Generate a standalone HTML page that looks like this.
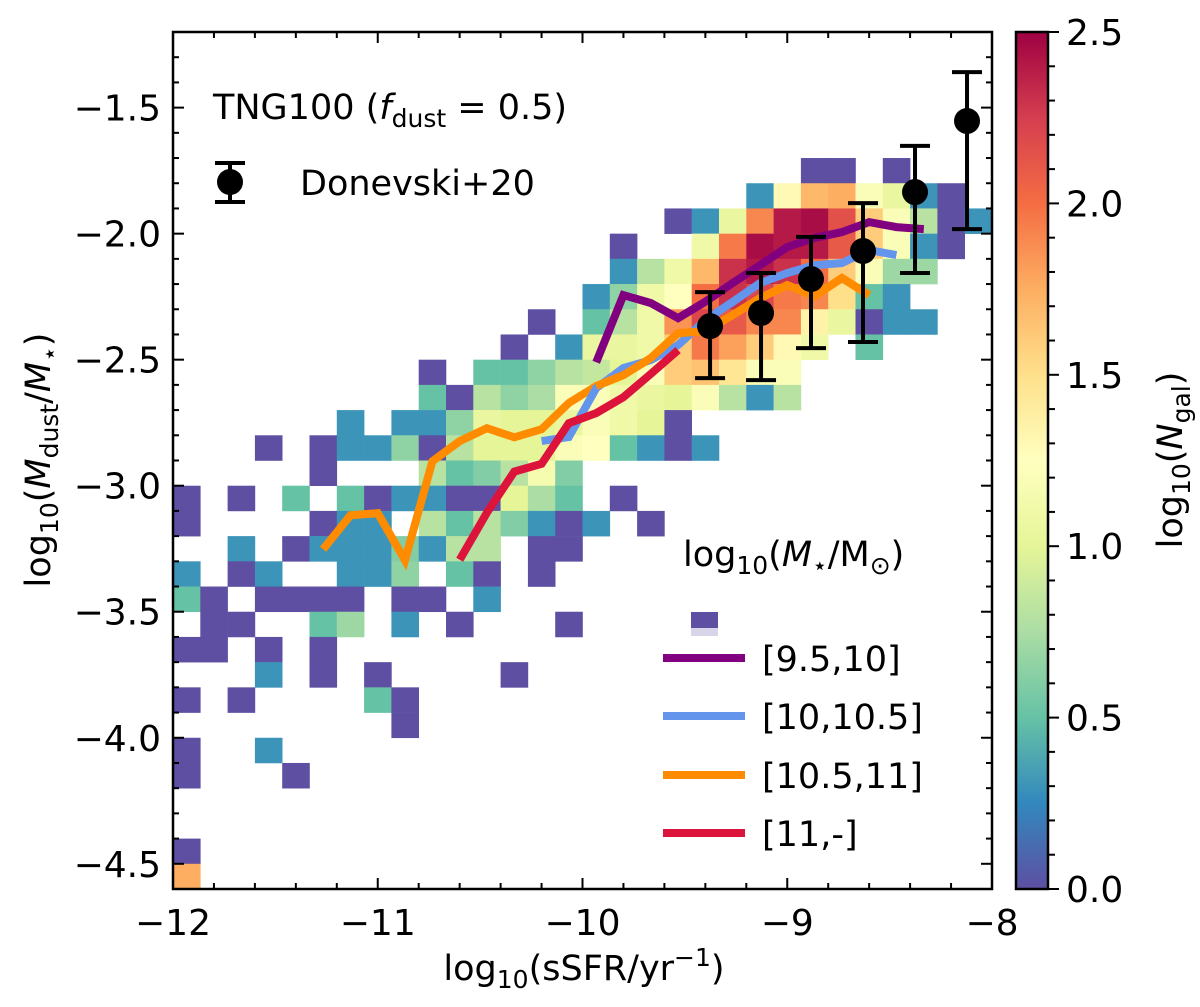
<!DOCTYPE html>
<html><head><meta charset="utf-8"><style>
html,body{margin:0;padding:0;background:#fff}
svg{display:block;font-family:"DejaVu Sans","Liberation Sans",sans-serif}
</style></head><body>
<svg id="chart" width="1200" height="1007" viewBox="0 0 1200 1007" xmlns="http://www.w3.org/2000/svg">
<defs>
<linearGradient id="cbar" x1="0" y1="1" x2="0" y2="0">
<stop offset="0" stop-color="#5e4fa2"/><stop offset="0.1" stop-color="#3288bd"/><stop offset="0.2" stop-color="#66c2a5"/><stop offset="0.3" stop-color="#abdda4"/><stop offset="0.4" stop-color="#e6f598"/><stop offset="0.5" stop-color="#ffffbf"/><stop offset="0.6" stop-color="#fee08b"/><stop offset="0.7" stop-color="#fdae61"/><stop offset="0.8" stop-color="#f46d43"/><stop offset="0.9" stop-color="#d53e4f"/><stop offset="1" stop-color="#9e0142"/>
</linearGradient>
</defs>
<g id="cells"></g>
<g id="lines"></g>
<g id="obs"></g>
<g id="axes"></g>
</svg>
<script>
// ---- data ----
const cellRow = [5,5,5, 6,6,6,6,6,6,6,6, 7,7,7,7,7,7,7,7,7,7,7,7, 8,8,8,8,8,8,8,8,8,8,8,
9,9,9,9,9,9,9,9,9,9,9,9, 10,10,10,10,10,10,10,10,10,10,10,10,
11,11,11,11,11,11,11,11,11,11,11,11,11,11, 12,12,12,12,12,12,12,12,12,12,12,12,
13,13,13,13,13,13,13,13,13,13,13,13,13, 14,14,14,14,14,14,14,14,14,14,14,14,14,14,
15,15,15,15,15,15,15,15,15,15,15,15, 16,16,16,16,16,16,16,16,16,16,16,16,16,16,16,16,
17,17,17,17,17,17,17, 18,18,18,18,18,18,18,18,18,18,18,18,18,
19,19,19,19,19,19,19,19,19,19,19,19, 20,20,20,20,20,20,20,20,20,20,20,
21,21,21,21,21,21,21,21,21, 22,22,22,22,22,22,22,22,22, 23,23,23,23,23,23,23,
24,24,24,24, 25,25,25,25, 26,26,26,26, 27, 28,28, 29,29, 32, 33];
const cellCol = [23,24,26, 21,22,23,24,25,26,27,28, 18,19,20,21,22,23,24,25,26,27,28,29, 16,19,20,21,22,23,24,25,26,27,28,
16,17,18,19,20,21,22,23,24,25,26,27, 15,16,17,18,19,20,21,22,23,24,25,26,
13,15,16,17,18,19,20,21,22,23,24,25,26,27, 12,14,15,16,17,18,19,20,21,22,23,25,
9,11,12,13,14,15,16,17,18,19,20,21,22, 9,10,11,12,13,14,15,16,17,18,19,20,21,22,
6,8,9,10,11,12,13,14,15,16,17,18, 3,5,6,7,8,9,10,11,12,13,14,15,16,17,18,19,
5,9,10,11,12,13,14, 0,2,4,6,7,8,9,10,11,12,13,14,16,
0,5,6,7,9,10,11,12,13,14,15,17, 2,4,5,6,7,8,9,10,11,13,14,
0,2,3,6,7,8,10,11,13, 0,1,3,4,5,6,8,9,11, 1,2,5,6,8,10,14,
0,1,3,5, 3,5,7,12, 0,2,7,8, 8, 0,3, 0,4, 0, 0];
const cellLogN = [0,0,0, .3,1.3,1.7,1.75,1.2,1.05,.3,0, 0,.3,1.05,1.9,2.4,2.45,2.15,1.6,1.2,.8,0,.3, 0,1.1,1.95,2.45,2.4,2.4,2.1,1.6,1.2,.3,0,
.3,.8,1.1,1.7,2.3,2.4,2.3,2.0,1.6,1.2,.7,.7, .3,.65,1.1,1.25,2.0,2.3,2.2,1.95,1.9,1.5,.5,.3,
0,.5,.8,1.1,1.85,2.2,2.1,1.9,1.9,1.35,1.05,0,.3,.3, 0,.3,1.05,1.05,1.1,1.6,1.95,1.8,1.6,1.3,1.1,.5,
0,.5,.5,.65,.8,.85,1.0,1.2,1.6,1.65,1.45,1.2,1.2, .5,0,.8,.65,.75,1.2,1.2,1.1,1.05,1.0,1.2,.8,.3,.8,
.3,.3,.3,.65,1.05,1.0,1.0,1.05,1.2,1.1,1.0,0, 0,0,.3,.3,.65,0,.8,1.0,1.0,1.0,1.2,1.25,.5,.3,0,.3,
0,.8,.5,.6,.8,1.15,.6, 0,0,.5,.5,0,.3,.3,0,0,1.0,.75,.5,0,
0,0,.3,.3,.8,.5,.8,.6,.3,0,.3,0, .3,0,.3,.3,.3,.6,.3,.8,.8,0,0,
.3,0,.3,.3,.3,.65,.5,0,0, .5,0,0,0,0,0,0,0,.3, 0,0,.5,.7,.3,0,0,
0,0,0,0, .3,0,0,0, 0,0,.5,0, 0, 0,.3, 0,0, 0, 1.75];

const purpleX = [-9.933,-9.8,-9.667,-9.533,-9.4,-9.267,-9.133,-9.0,-8.867,-8.733,-8.6,-8.467,-8.333];
const purpleY = [-2.51,-2.244,-2.275,-2.335,-2.27,-2.196,-2.125,-2.053,-2.017,-1.994,-1.954,-1.974,-1.982];
const blueX = [-10.2,-10.067,-9.933,-9.8,-9.667,-9.533,-9.4,-9.267,-9.133,-9.0,-8.867,-8.733,-8.6,-8.467];
const blueY = [-2.823,-2.807,-2.613,-2.533,-2.502,-2.442,-2.343,-2.271,-2.196,-2.156,-2.125,-2.117,-2.065,-2.085];
const orangeX = [-11.267,-11.133,-11.0,-10.867,-10.733,-10.6,-10.467,-10.333,-10.2,-10.067,-9.933,-9.8,-9.667,-9.533,-9.4,-9.267,-9.133,-9.0,-8.867,-8.733,-8.6];
const orangeY = [-3.252,-3.117,-3.109,-3.296,-2.903,-2.823,-2.772,-2.808,-2.776,-2.672,-2.605,-2.561,-2.494,-2.395,-2.387,-2.323,-2.256,-2.204,-2.248,-2.176,-2.244];
const redX = [-10.6,-10.467,-10.333,-10.2,-10.067,-9.933,-9.8,-9.667,-9.533];
const redY = [-3.294,-3.107,-2.944,-2.913,-2.752,-2.712,-2.649,-2.557,-2.462];

const obsX = [-9.377,-9.128,-8.884,-8.630,-8.376,-8.122];
const obsY = [-2.367,-2.315,-2.180,-2.069,-1.835,-1.553];
const obsHi = [-2.232,-2.156,-2.013,-1.879,-1.652,-1.359];
const obsLo = [-2.573,-2.581,-2.454,-2.430,-2.156,-1.982];

const xTicks = [-12,-11,-10,-9,-8];
const xTickLabels = ['\u221212','\u221211','\u221210','\u22129','\u22128'];
const yTicks = [-1.5,-2.0,-2.5,-3.0,-3.5,-4.0,-4.5];
const yTickLabels = ['\u22121.5','\u22122.0','\u22122.5','\u22123.0','\u22123.5','\u22124.0','\u22124.5'];
const cTicks = [0,0.5,1,1.5,2,2.5];
const cTickLabels = ['0.0','0.5','1.0','1.5','2.0','2.5'];

// ---- geometry ----
const L=173,R=992,T=32,B=889;
const X0=-12,X1=-8,Y0=-4.6,Y1=-1.2;
const sx=v=>L+(v-X0)/(X1-X0)*(R-L);
const sy=v=>B-(v-Y0)/(Y1-Y0)*(B-T);
const CB_L=1016,CB_R=1048, CMIN=0,CMAX=2.5;
const cy=v=>B-(v-CMIN)/(CMAX-CMIN)*(B-T);
const NS='http://www.w3.org/2000/svg';
function mk(tag,attrs,parent){const e=document.createElementNS(NS,tag);for(const k in attrs)e.setAttribute(k,attrs[k]);parent.appendChild(e);return e;}
const stops=['#5e4fa2','#3288bd','#66c2a5','#abdda4','#e6f598','#ffffbf','#fee08b','#fdae61','#f46d43','#d53e4f','#9e0142'];
function cmap(v){let t=Math.max(0,Math.min(1,(v-CMIN)/(CMAX-CMIN)))*10;let i=Math.min(9,Math.floor(t));let f=t-i;
 const a=stops[i],b=stops[i+1];const p=(h,o)=>parseInt(h.substr(o,2),16);
 const c=[1,3,5].map(o=>Math.round(p(a,o)+(p(b,o)-p(a,o))*f));return `rgb(${c.join(',')})`;}

// ---- heatmap ----
const dx=(X1-X0)/30, dy=0.1;
const gc=document.getElementById('cells');
for(let n=0;n<cellRow.length;n++){
 const xl=X0+cellCol[n]*dx, yt=Y1-cellRow[n]*dy;
 const x=sx(xl), y=sy(yt), w=sx(xl+dx)-x, h=sy(yt-dy)-y;
 const r=mk('rect',{x:x.toFixed(2),y:y.toFixed(2),width:(w+0.3).toFixed(2),height:(h+0.3).toFixed(2),fill:cmap(cellLogN[n])},gc);
 
 
}

// ---- median lines ----
const gl=document.getElementById('lines');
function curve(xs,ys,color,name){
 const p=mk('polyline',{points:xs.map((v,i)=>sx(v).toFixed(1)+','+sy(ys[i]).toFixed(1)).join(' '),fill:'none',stroke:color,'stroke-width':8,'stroke-linejoin':'miter'},gl);
 
 
}
curve(orangeX,orangeY,'#ff8c00','curve-10.5-11');
curve(blueX,blueY,'#6495ed','curve-10-10.5');
curve(orangeX.slice(10),orangeY.slice(10),'#ff8c00','curve-10.5-11-front');
curve(redX,redY,'#dc143c','curve-11-plus');
curve(purpleX,purpleY,'#800080','curve-9.5-10');

// ---- observations ----
const go=document.getElementById('obs');
for(let i=0;i<obsX.length;i++){
 const x=sx(obsX[i]);
 const g=mk('g',{},go);
 
 
 mk('line',{x1:x,x2:x,y1:sy(obsHi[i]),y2:sy(obsLo[i]),stroke:'#000','stroke-width':4},g);
 mk('line',{x1:x-15,x2:x+15,y1:sy(obsHi[i]),y2:sy(obsHi[i]),stroke:'#000','stroke-width':4},g);
 mk('line',{x1:x-15,x2:x+15,y1:sy(obsLo[i]),y2:sy(obsLo[i]),stroke:'#000','stroke-width':4},g);
 mk('circle',{cx:x,cy:sy(obsY[i]),r:13,fill:'#000'},g);
}

// ---- axes ----
const ga=document.getElementById('axes');
const frame=mk('rect',{x:L,y:T,width:R-L,height:B-T,fill:'none',stroke:'#000','stroke-width':2.5},ga);


function tk(x1,y1,x2,y2){mk('line',{x1,y1,x2,y2,stroke:'#000','stroke-width':2},ga);}
for(let v=-12;v<=-8.0001;v+=0.2){const x=sx(v);const maj=Math.abs(v-Math.round(v))<1e-6;const l=maj?11:6;tk(x,B,x,B-l);tk(x,T,x,T+l);}
for(let k=0;k<=34;k++){const v=-4.6+k*0.1;const y=sy(v);const maj=Math.abs(v*2-Math.round(v*2))<1e-6;const l=maj?11:6;tk(L,y,L+l,y);tk(R,y,R-l,y);}
xTicks.forEach((v,i)=>{const t=mk('text',{x:sx(v),y:B+46,'font-size':36,'text-anchor':'middle'},ga);t.textContent=xTickLabels[i];
 
 });
yTicks.forEach((v,i)=>{const t=mk('text',{x:L-12,y:sy(v)+13,'font-size':36,'text-anchor':'end'},ga);t.textContent=yTickLabels[i];
 
 });

// colorbar
const cb=mk('rect',{x:CB_L,y:T,width:CB_R-CB_L,height:B-T,fill:'url(#cbar)',stroke:'#000','stroke-width':2.5},ga);


for(let k=0;k<=25;k++){const v=k*0.1;const y=cy(v);const maj=k%5===0;tk(CB_R,y,CB_R+(maj?11:7),y);}
cTicks.forEach((v,i)=>{const t=mk('text',{x:CB_R+18,y:cy(v)+13,'font-size':36},ga);t.textContent=cTickLabels[i];
 
 });
</script>
<div style="position:absolute;left:0;top:0;width:1200px;height:1007px;pointer-events:none">
<svg width="1200" height="1007" style="position:absolute;left:0;top:0;font-family:'DejaVu Sans','Liberation Sans',sans-serif">
<text x="584" y="980" font-size="35" text-anchor="middle">log<tspan font-size="25" dy="8">10</tspan><tspan dy="-8">(sSFR/yr</tspan><tspan font-size="25" dy="-14">−1</tspan><tspan dy="14">)</tspan></text>
<text transform="translate(50,460) rotate(-90)" font-size="35" text-anchor="middle">log<tspan font-size="25" dy="8">10</tspan><tspan dy="-8">(</tspan><tspan font-style="italic">M</tspan><tspan font-size="25" dy="8">dust</tspan><tspan dy="-8">/</tspan><tspan font-style="italic">M</tspan><tspan font-size="25" dy="8">⋆</tspan><tspan dy="-8">)</tspan></text>
<text transform="translate(1182,460) rotate(-90)" font-size="35" text-anchor="middle">log<tspan font-size="25" dy="8">10</tspan><tspan dy="-8">(</tspan><tspan font-style="italic">N</tspan><tspan font-size="25" dy="8">gal</tspan><tspan dy="-8">)</tspan></text>
<text x="213" y="119" font-size="35">TNG100 (<tspan font-style="italic">f</tspan><tspan font-size="25" dy="8">dust</tspan><tspan dy="-8"> = 0.5)</tspan></text>
<g>
<line x1="230" y1="163" x2="230" y2="202" stroke="#000" stroke-width="4"/>
<line x1="215" y1="163" x2="245" y2="163" stroke="#000" stroke-width="4"/>
<line x1="215" y1="202" x2="245" y2="202" stroke="#000" stroke-width="4"/>
<circle cx="230" cy="182" r="13" fill="#000"/>
<text x="300" y="195" font-size="35">Donevski+20</text>
</g>
<text x="683" y="566" font-size="35">log<tspan font-size="25" dy="8">10</tspan><tspan dy="-8">(</tspan><tspan font-style="italic">M</tspan><tspan font-size="25" dy="8">⋆</tspan><tspan dy="-8">/M</tspan><tspan font-size="25" dy="8">⊙</tspan><tspan dy="-8">)</tspan></text>
<g>
<rect x="691" y="612" width="27" height="16" fill="#5e4fa2"/>
<rect x="691" y="628" width="27" height="8" fill="#d8d4ea"/>
</g>
<g><line x1="663" y1="658" x2="745" y2="658" stroke="#800080" stroke-width="8"/><text x="762" y="671" font-size="35">[9.5,10]</text></g>
<g><line x1="663" y1="716" x2="745" y2="716" stroke="#6495ed" stroke-width="8"/><text x="762" y="729" font-size="35">[10,10.5]</text></g>
<g><line x1="663" y1="775" x2="745" y2="775" stroke="#ff8c00" stroke-width="8"/><text x="762" y="788" font-size="35">[10.5,11]</text></g>
<g><line x1="663" y1="833" x2="745" y2="833" stroke="#dc143c" stroke-width="8"/><text x="762" y="846" font-size="35">[11,-]</text></g>
</svg>
</div>
</body></html>
